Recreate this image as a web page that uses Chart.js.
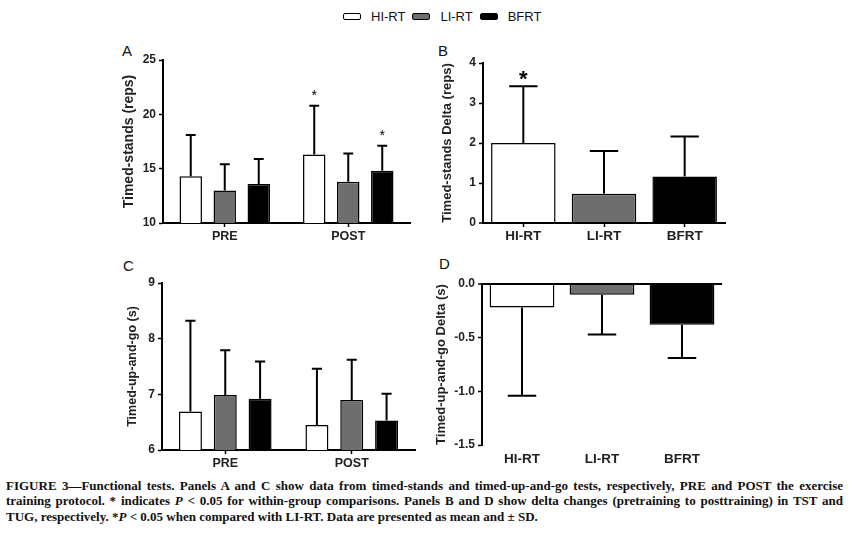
<!DOCTYPE html>
<html>
<head>
<meta charset="utf-8">
<script src="https://cdn.jsdelivr.net/npm/chart.js@4.4.1/dist/chart.umd.min.js"></script>
<style>
  body { margin: 0; width: 858px; height: 544px; background: #fff; position: relative; overflow: hidden;
         font-family: "Liberation Sans", Arial, sans-serif; color: #111; }
  canvas { position: absolute; }
  .letter { position: absolute; font-size: 15px; line-height: 1; }
  #legend { position: absolute; left: 343px; top: 9px; display: flex; align-items: center; font-size: 13px; }
  #legend .box { width: 16px; height: 5px; border: 1.5px solid #000; border-radius: 2px; margin-right: 10px; }
  #legend span { margin-right: 7px; }
  #caption { position: absolute; left: 6px; top: 478px; width: 837px; font-family: "Liberation Serif", "Times New Roman", serif;
             font-weight: bold; font-size: 13px; line-height: 15.3px; }
  #caption div { text-align: justify; text-align-last: justify; white-space: nowrap; }
  #caption div.last { text-align-last: left; }
</style>
</head>
<body>

<div id="legend">
  <div class="box" style="background:#fff"></div><span>HI-RT</span>
  <div class="box" style="background:#6e6e6e"></div><span>LI-RT</span>
  <div class="box" style="background:#000"></div><span>BFRT</span>
</div>

<div class="letter" style="left:122px;top:43px">A</div>
<div class="letter" style="left:438px;top:43px">B</div>
<div class="letter" style="left:123px;top:258px">C</div>
<div class="letter" style="left:439px;top:256px">D</div>

<canvas id="chartA" width="320" height="210" style="left:100px;top:40px"></canvas>
<canvas id="chartB" width="320" height="210" style="left:420px;top:40px"></canvas>
<canvas id="chartC" width="320" height="220" style="left:100px;top:255px"></canvas>
<canvas id="chartD" width="320" height="220" style="left:420px;top:255px"></canvas>

<div id="caption">
  <div>FIGURE 3—Functional tests. Panels A and C show data from timed-stands and timed-up-and-go tests, respectively, PRE and POST the exercise</div>
  <div>training protocol. * indicates <i>P</i> &lt; 0.05 for within-group comparisons. Panels B and D show delta changes (pretraining to posttraining) in TST and</div>
  <div class="last">TUG, respectively. *<i>P</i> &lt; 0.05 when compared with LI-RT. Data are presented as mean and ± SD.</div>
</div>

<script>
//categories and colours
const phases = ['PRE', 'POST'];
const groups = ['HI-RT', 'LI-RT', 'BFRT'];
const groupColors = ['#ffffff', '#6e6e6e', '#000000'];

//panel A - timed-stands (reps), mean and SD per group for PRE / POST
const standsHI = [14.3, 16.3];
const standsHISd = [3.8, 4.5];
const standsLI = [13.0, 13.8];
const standsLISd = [2.4, 2.6];
const standsBF = [13.6, 14.8];
const standsBFSd = [2.3, 2.3];
const standsHIStar = [false, true];
const standsBFStar = [false, true];
const standsTicks = [10, 15, 20, 25];

//panel B - timed-stands delta
const standsDelta = [2.0, 0.73, 1.16];
const standsDeltaSd = [1.42, 1.07, 1.0];
const standsDeltaStar = [true, false, false];
const standsDeltaTicks = [0, 1, 2, 3, 4];

//panel C - timed-up-and-go (s)
const tugHI = [6.69, 6.45];
const tugHISd = [1.63, 1.01];
const tugLI = [6.99, 6.9];
const tugLISd = [0.8, 0.72];
const tugBF = [6.92, 6.53];
const tugBFSd = [0.67, 0.48];
const tugTicks = [6, 7, 8, 9];

//panel D - timed-up-and-go delta
const tugDelta = [-0.22, -0.10, -0.38];
const tugDeltaSd = [0.82, 0.37, 0.31];
const tugDeltaTicks = [-1.5, -1.0, -0.5, 0.0];

const fontFamily = '"Liberation Sans", Arial, sans-serif';

//draws one-sided SD bars (and the significance stars) on top of the bars
const errorBars = {
  id: 'errorBars',
  afterDatasetsDraw(chart, args, opts) {
    const ctx = chart.ctx;
    const yScale = chart.scales.y;
    chart.data.datasets.forEach((ds, i) => {
      const meta = chart.getDatasetMeta(i);
      meta.data.forEach((bar, j) => {
        const mean = ds.data[j];
        const end = mean < 0 ? mean - ds.sd[j] : mean + ds.sd[j];
        const yEnd = yScale.getPixelForValue(end);
        const cap = bar.width * 0.22;
        ctx.save();
        ctx.strokeStyle = '#000';
        ctx.lineWidth = 2;
        ctx.beginPath();
        ctx.moveTo(bar.x, bar.y);
        ctx.lineTo(bar.x, yEnd);
        ctx.moveTo(bar.x - cap, yEnd);
        ctx.lineTo(bar.x + cap, yEnd);
        ctx.stroke();
        if (ds.stars && ds.stars[j]) {
          ctx.fillStyle = '#000';
          ctx.font = opts.starFont;
          ctx.textAlign = 'center';
          ctx.textBaseline = 'alphabetic';
          ctx.fillText('*', bar.x, yEnd - opts.starGap);
        }
        ctx.restore();
      });
    });
  }
};

function yAxis(ticks, width, title, titleSize, titlePad, decimals, zeroLine) {
  return {
    min: ticks[0],
    max: ticks[ticks.length - 1],
    afterBuildTicks: (scale) => { scale.ticks = ticks.map(v => ({value: v})); },
    afterFit: (scale) => { scale.width = width; },
    border: {display: true, color: '#000', width: 2},
    grid: {
      drawOnChartArea: !!zeroLine,
      color: (c) => (c.tick && c.tick.value === 0) ? '#000' : 'rgba(0,0,0,0)',
      lineWidth: (c) => (c.tick && c.tick.value === 0) ? 2 : 1,
      tickColor: '#000',
      tickWidth: 1.5,
      tickLength: 4
    },
    ticks: {
      color: '#222',
      padding: 3,
      font: {family: fontFamily, size: 12, weight: 'bold'},
      callback: (v) => Number(v).toFixed(decimals)
    },
    title: {
      display: true,
      text: title,
      color: '#222',
      padding: {top: titlePad, bottom: 0},
      font: {family: fontFamily, size: titleSize, weight: 'bold'}
    }
  };
}

function xAxis(height, showLine, size, pad) {
  return {
    afterFit: (scale) => { scale.height = height; },
    border: {display: showLine, color: '#000', width: 2},
    grid: {display: showLine, drawOnChartArea: false, offset: false, tickColor: '#000', tickWidth: 1.5, tickLength: 4},
    ticks: {color: '#222', padding: pad, font: {family: fontFamily, size: size, weight: 'bold'}}
  };
}

function baseOptions(padding, x, y, starFont, starGap) {
  return {
    responsive: false,
    animation: false,
    layout: {padding: padding},
    plugins: {
      legend: {display: false},
      tooltip: {enabled: false},
      errorBars: {starFont: starFont, starGap: starGap}
    },
    scales: {x: x, y: y}
  };
}

function groupedSet(label, data, sd, color, stars) {
  return {
    label: label,
    data: data,
    sd: sd,
    stars: stars,
    backgroundColor: color,
    borderColor: '#000',
    borderWidth: 1.5,
    categoryPercentage: 0.826,
    barPercentage: 0.66
  };
}

//panel A
const configA = {
  type: 'bar',
  data: {
    labels: phases,
    datasets: [
      groupedSet(groups[0], standsHI, standsHISd, groupColors[0], standsHIStar),
      groupedSet(groups[1], standsLI, standsLISd, groupColors[1], null),
      groupedSet(groups[2], standsBF, standsBFSd, groupColors[2], standsBFStar)
    ]
  },
  options: baseOptions({left: 0, top: 20, right: 10, bottom: 0}, xAxis(27, true, 12.5, 2),
    yAxis(standsTicks, 63, 'Timed-stands (reps)', 14, 20.5, 0, false), '14px ' + fontFamily, 6),
  plugins: [errorBars]
};

//panel B
const configB = {
  type: 'bar',
  data: {
    labels: groups,
    datasets: [{
      data: standsDelta,
      sd: standsDeltaSd,
      stars: standsDeltaStar,
      backgroundColor: groupColors,
      borderColor: '#000',
      borderWidth: 1.5,
      categoryPercentage: 0.8,
      barPercentage: 1.0
    }]
  },
  options: baseOptions({left: 0, top: 23, right: 15, bottom: 0}, xAxis(27, true, 13.5, 1.5),
    yAxis(standsDeltaTicks, 63, 'Timed-stands Delta (reps)', 13, 20, 0, false), 'bold 22px ' + fontFamily, 0),
  plugins: [errorBars]
};

//panel C
const configC = {
  type: 'bar',
  data: {
    labels: phases,
    datasets: [
      groupedSet(groups[0], tugHI, tugHISd, groupColors[0], null),
      groupedSet(groups[1], tugLI, tugLISd, groupColors[1], null),
      groupedSet(groups[2], tugBF, tugBFSd, groupColors[2], null)
    ]
  },
  options: baseOptions({left: 0, top: 28, right: 5, bottom: 0}, xAxis(25, true, 12.5, 2.5),
    yAxis(tugTicks, 62, 'Timed-up-and-go (s)', 12.5, 25.5, 0, false), '14px ' + fontFamily, 5),
  plugins: [errorBars]
};

//panel D
const configD = {
  type: 'bar',
  data: {
    labels: groups,
    datasets: [{
      data: tugDelta,
      sd: tugDeltaSd,
      backgroundColor: groupColors,
      borderColor: '#000',
      borderWidth: 1.5,
      categoryPercentage: 0.81,
      barPercentage: 1.0
    }]
  },
  options: baseOptions({left: 0, top: 29, right: 18, bottom: 0}, xAxis(30, false, 13.5, 2),
    yAxis(tugDeltaTicks, 62, 'Timed-up-and-go Delta (s)', 13, 14, 1, true), '14px ' + fontFamily, 5),
  plugins: [errorBars]
};

new Chart(document.getElementById('chartA'), configA);
new Chart(document.getElementById('chartB'), configB);
new Chart(document.getElementById('chartC'), configC);
new Chart(document.getElementById('chartD'), configD);
</script>
</body>
</html>
